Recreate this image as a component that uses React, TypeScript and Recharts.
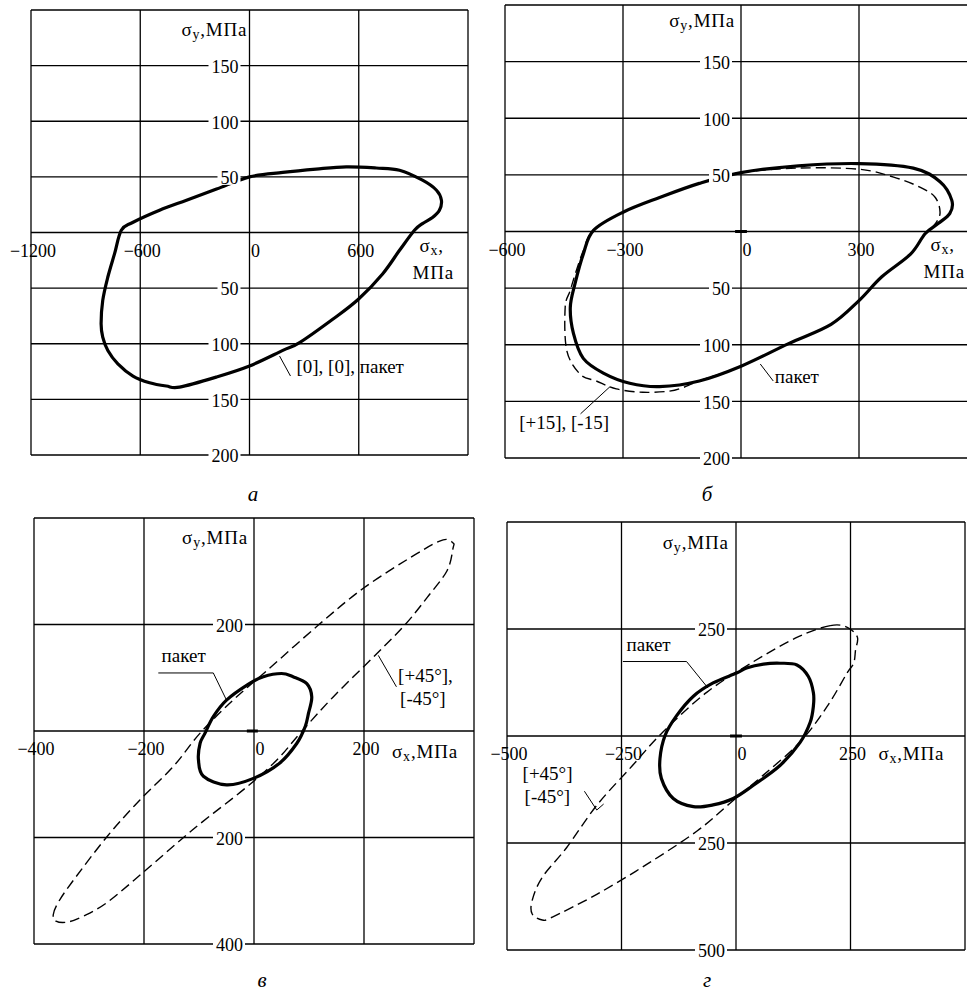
import React from "react";
import { LineChart, Line, XAxis, YAxis, ReferenceLine, ReferenceDot } from "recharts";

type Pt = { x: number; y: number };

const FONT = '"Liberation Serif", "Times New Roman", serif';
const TICK_FS = 18;
const NOTE_FS = 19;
const DIGIT_W = 9;

const pts = (arr: number[][]): Pt[] => arr.map(([x, y]) => ({ x, y }));

// ---- panel а : [0], [0], пакет (one loop) ----
const loopA = pts([
  [0, 50], [183, 54], [366, 57], [531, 59], [696, 58], [824, 56], [950, 47], [1027, 38],
  [1054, 29], [1043, 20], [1005, 13.5], [950, 8], [906, 2], [824, -16], [732, -37],
  [598, -60], [457, -78], [275, -99], [183, -106], [0, -120], [-183, -130], [-384, -139],
  [-457, -138], [-549, -135], [-640, -129], [-723, -118], [-778, -106], [-806, -94],
  [-815, -82], [-806, -61], [-778, -40], [-741, -19], [-704, 2], [-642, 9], [-494, 20],
  [-346, 29], [-181, 39], [0, 50],
]);

// ---- panel б : пакет (solid) and [+15], [-15] (dashed) ----
const packB = pts([
  [0, 52], [146, 58], [300, 60], [438, 56], [506, 44], [536, 27.5], [531, 16], [501, 7],
  [468, -2], [431, -20], [358, -40], [300, -61], [229, -82], [121, -99], [0, -119],
  [-106, -132], [-207, -137], [-283, -134], [-350, -125], [-401, -112], [-426, -90],
  [-434, -67], [-422, -46], [-401, -20], [-375, 1], [-300, 17], [-207, 30], [-106, 42.5],
  [0, 52],
]);
const angleB = pts([
  [0, 52], [146, 56], [300, 55], [388, 48], [456, 39], [494, 30], [506, 16], [490, 5],
  [468, -2], [431, -20], [358, -40], [300, -61], [229, -82], [121, -99], [0, -119],
  [-106, -132], [-149, -138], [-182, -141], [-250, -142], [-317, -139], [-368, -132],
  [-409, -126], [-443, -105], [-447, -67], [-434, -52], [-421, -37], [-401, -17],
  [-376, 1], [-300, 17], [-207, 30], [-106, 42.5], [0, 52],
]);

// ---- panel в : пакет (solid) and [+45°], [-45°] (dashed) ----
const packV = pts([
  [-10, 88], [17, 102], [50, 108], [71, 102], [96, 89], [105, 64], [99, 33], [93, 8],
  [78, -23], [47, -60], [-1, -89], [-50, -101], [-92, -85], [-101, -54], [-98, -23],
  [-89, -4], [-74, 27], [-50, 58], [-10, 88],
]);
const angleV = pts([
  [-365, -345], [-356, -322], [-331, -284], [-267, -198], [-207, -129], [-147, -67],
  [-98, -4], [-38, 58], [24, 114], [116, 198], [200, 269], [296, 333], [344, 359],
  [362, 353], [362, 344], [351, 301], [315, 251], [275, 200], [224, 146], [144, 64],
  [84, -4], [42, -54], [-13, -105], [-111, -185], [-202, -266], [-267, -322],
  [-311, -348], [-340, -359], [-360, -357], [-365, -345],
]);

// ---- panel г : пакет (solid) and [+45°] [-45°] (dashed) ----
const packG = pts([
  [1, 147], [23, 159], [60, 168], [96, 170], [133, 166], [158, 139], [169, 101], [169, 70],
  [162, 32], [140, -15], [96, -69], [38, -115], [-6, -146], [-50, -161], [-93, -165],
  [-137, -146], [-163, -99], [-166, -53], [-155, 1], [-130, 47], [-93, 93], [-50, 124],
  [1, 147],
]);
const angleG = pts([
  [206, 258], [243, 254], [265, 231], [261, 201], [257, 170], [243, 148], [199, 69],
  [140, -14], [59, -92], [-13, -157], [-85, -222], [-195, -300], [-304, -370],
  [-401, -423], [-423, -430], [-445, -416], [-445, -384], [-423, -330], [-370, -261],
  [-304, -162], [-226, -69], [-160, 9], [-64, 102], [37, 173], [134, 231], [206, 258],
]);

// axis ticks
const ticksXA = [-1200, -600, 0, 600];
const ticksYA = [150, 100, 50, -50, -100, -150, -200];
const ticksXB = [-600, -300, 0, 300];
const ticksYB = [150, 100, 50, -50, -100, -150, -200];
const ticksXV = [-400, -200, 0, 200];
const ticksYV = [200, -200, -400];
const ticksXG = [-500, -250, 0, 250];
const ticksYG = [250, -250, -500];

// Catmull-Rom curve for the loops: smooth, passes through every point,
// wraps around when the first and last points coincide.
function loopCurve(context: any) {
  let buf: number[][] = [];
  return {
    areaStart() {},
    areaEnd() {},
    lineStart() {
      buf = [];
    },
    point(x: number, y: number) {
      buf.push([+x, +y]);
    },
    lineEnd() {
      const n = buf.length;
      if (!n) return;
      const closed = n > 3 && Math.abs(buf[0][0] - buf[n - 1][0]) < 0.01 && Math.abs(buf[0][1] - buf[n - 1][1]) < 0.01;
      const P = closed ? buf.slice(0, -1) : buf;
      const m = P.length;
      const at = (i: number) => (closed ? P[((i % m) + m) % m] : P[Math.max(0, Math.min(m - 1, i))]);
      context.moveTo(P[0][0], P[0][1]);
      const segs = closed ? m : m - 1;
      for (let i = 0; i < segs; i++) {
        const p0 = at(i - 1);
        const p1 = at(i);
        const p2 = at(i + 1);
        const p3 = at(i + 2);
        context.bezierCurveTo(
          p1[0] + (p2[0] - p0[0]) / 6,
          p1[1] + (p2[1] - p0[1]) / 6,
          p2[0] - (p3[0] - p1[0]) / 6,
          p2[1] - (p3[1] - p1[1]) / 6,
          p2[0],
          p2[1]
        );
      }
    },
  };
}

interface Curve { data: Pt[]; dashed?: boolean }
interface Note { x: number; y: number; lines: string[] }

interface PanelSpec {
  left: number;
  top: number;
  width: number;
  height: number;
  margin: { top: number; right: number; bottom: number; left: number };
  xDomain: [number, number];
  yDomain: [number, number];
  xGrid: number[];
  yGrid: number[];
  xTicks: number[];
  yTicks: number[];
  // split: "σx," on one line and "МПа" under it, both hanging below the x axis
  sigmaX: { x: number; y: number; split: boolean };
  sigmaY: { x: number; y: number };
  curves: Curve[];
  notes: Note[];
  leaders: Pt[][];
  originMark?: [number, number];
}

const range = (a: number, b: number, step: number) => {
  const out: number[] = [];
  for (let v = a; v <= b + 1e-9; v += step) out.push(v);
  return out;
};

const fmt = (v: number) => (v < 0 ? "\u2212" + Math.abs(v) : String(v));

const panels: PanelSpec[] = [
  {
    left: 0, top: 0, width: 480, height: 470,
    margin: { top: 10, right: 12, bottom: 15, left: 31 },
    xDomain: [-1200, 1200], yDomain: [-200, 200],
    xGrid: range(-1200, 1200, 600), yGrid: range(-200, 200, 50),
    xTicks: ticksXA, yTicks: ticksYA,
    sigmaX: { x: 895, y: 0, split: true },
    sigmaY: { x: -12, y: 182 },
    curves: [{ data: loopA }],
    notes: [{ x: 258, y: -126, lines: ["[0], [0], пакет"] }],
    leaders: [[{ x: 165, y: -111 }, { x: 225, y: -129 }]],
  },
  {
    left: 485, top: 0, width: 500, height: 470,
    margin: { top: 5, right: 8, bottom: 12, left: 20 },
    xDomain: [-600, 600], yDomain: [-200, 200],
    xGrid: range(-600, 600, 300), yGrid: range(-200, 200, 50),
    xTicks: ticksXB, yTicks: ticksYB,
    sigmaX: { x: 464, y: 0, split: true },
    sigmaY: { x: -15, y: 186 },
    curves: [{ data: angleB, dashed: true }, { data: packB }],
    notes: [
      { x: 86, y: -134, lines: ["пакет"] },
      { x: -564, y: -174, lines: ["[+15], [-15]"] },
    ],
    leaders: [
      [{ x: 49, y: -117 }, { x: 82, y: -132 }],
      [{ x: -333, y: -137 }, { x: -408, y: -161 }],
    ],
    originMark: [-15, 15],
  },
  {
    left: 0, top: 500, width: 485, height: 460,
    margin: { top: 18, right: 11, bottom: 16, left: 34 },
    xDomain: [-400, 400], yDomain: [-400, 400],
    xGrid: range(-400, 400, 200), yGrid: range(-400, 400, 200),
    xTicks: ticksXV, yTicks: ticksYV,
    sigmaX: { x: 251, y: -39, split: false },
    sigmaY: { x: -11, y: 363 },
    curves: [{ data: angleV, dashed: true }, { data: packV }],
    notes: [
      { x: -168, y: 130, lines: ["пакет"] },
      { x: 262, y: 92, lines: ["[+45°],", "[-45°]"] },
    ],
    leaders: [
      [{ x: -174, y: 109 }, { x: -74, y: 109 }, { x: -50, y: 58 }],
      [{ x: 226, y: 142 }, { x: 259, y: 83 }],
    ],
    originMark: [-13, 7],
  },
  {
    left: 485, top: 500, width: 482, height: 465,
    margin: { top: 22, right: 2, bottom: 15, left: 22 },
    xDomain: [-500, 500], yDomain: [-500, 500],
    xGrid: range(-500, 500, 250), yGrid: range(-500, 500, 250),
    xTicks: ticksXG, yTicks: ticksYG,
    sigmaX: { x: 311, y: -42, split: false },
    sigmaY: { x: -16, y: 450 },
    curves: [{ data: angleG, dashed: true }, { data: packG }],
    notes: [
      { x: -239, y: 199, lines: ["пакет"] },
      { x: -466, y: -103, lines: ["[+45°]", "[-45°]"] },
    ],
    leaders: [
      [{ x: -247, y: 174 }, { x: -108, y: 174 }, { x: -61, y: 112 }],
      [{ x: -331, y: -129 }, { x: -304, y: -173 }, { x: -289, y: -159 }],
    ],
    originMark: [-13, 13],
  },
];

const tickStyle: React.CSSProperties = { fontFamily: FONT, fontSize: TICK_FS, fill: "#000" };
const noteStyle: React.CSSProperties = { fontFamily: FONT, fontSize: NOTE_FS, fill: "#000" };
const unitStyle: React.CSSProperties = { fontFamily: FONT, fontSize: NOTE_FS, fill: "#000", letterSpacing: 0.8 };

// σ with a lowered subscript, followed by the unit; y is the baseline
function Sigma({ x, y, sub, tail, anchor }: { x: number; y: number; sub: string; tail: string; anchor?: "start" | "end" }) {
  return (
    <text x={x} y={y} textAnchor={anchor ?? "start"} style={unitStyle}>
      <tspan>σ</tspan>
      <tspan style={{ fontSize: 14 }} dy={3}>{sub}</tspan>
      <tspan dy={-3}>{tail}</tspan>
    </text>
  );
}

function Panel({ spec }: { spec: PanelSpec }) {
  const s = spec;
  const grid = { stroke: "#000", strokeWidth: 1.3, ifOverflow: "visible" as const };
  return (
    <div style={{ position: "absolute", left: s.left, top: s.top }}>
      <LineChart width={s.width} height={s.height} margin={s.margin}>
        <XAxis type="number" dataKey="x" domain={s.xDomain} allowDataOverflow hide />
        <YAxis type="number" dataKey="y" domain={s.yDomain} allowDataOverflow hide />

        {s.xGrid.map((v) => (
          <ReferenceLine key={"gx" + v} x={v} {...grid} />
        ))}
        {s.yGrid.map((v) => (
          <ReferenceLine key={"gy" + v} y={v} {...grid} />
        ))}

        {s.yTicks.map((v) => {
          const label = String(Math.abs(v));
          const w = label.length * DIGIT_W;
          return (
            <ReferenceDot
              key={"ty" + v}
              x={0}
              y={v}
              r={0}
              ifOverflow="visible"
              shape={(p: any) => (
                <g>
                  <rect x={p.cx - 11 - w - 3} y={p.cy - 8} width={w + 5} height={16} fill="#fff" />
                  <text x={p.cx - 11} y={p.cy + 1} dy="0.35em" textAnchor="end" style={tickStyle}>
                    {label}
                  </text>
                </g>
              )}
            />
          );
        })}

        {s.xTicks.map((v) => (
          <ReferenceDot
            key={"tx" + v}
            x={v}
            y={0}
            r={0}
            ifOverflow="visible"
            shape={(p: any) => (
              <text x={p.cx + (v === 0 ? 6 : 2)} y={p.cy + 18} dy="0.35em" textAnchor="middle" style={tickStyle}>
                {fmt(v)}
              </text>
            )}
          />
        ))}

        <ReferenceDot
          x={s.sigmaX.x}
          y={s.sigmaX.y}
          r={0}
          ifOverflow="visible"
          shape={(p: any) =>
            s.sigmaX.split ? (
              <g>
                <Sigma x={p.cx + 7} y={p.cy + 19} sub="x" tail="," />
                <text x={p.cx} y={p.cy + 46} style={unitStyle}>МПа</text>
              </g>
            ) : (
              <Sigma x={p.cx} y={p.cy + 6} sub="x" tail=",МПа" />
            )
          }
        />
        <ReferenceDot
          x={s.sigmaY.x}
          y={s.sigmaY.y}
          r={0}
          ifOverflow="visible"
          shape={(p: any) => <Sigma x={p.cx} y={p.cy + 6} sub="y" tail=",МПа" anchor="end" />}
        />

        {s.notes.map((n, i) => (
          <ReferenceDot
            key={"n" + i}
            x={n.x}
            y={n.y}
            r={0}
            ifOverflow="visible"
            shape={(p: any) => (
              <text x={p.cx} y={p.cy} dy="0.35em" style={noteStyle}>
                {n.lines.map((ln, j) => (
                  <tspan key={j} x={p.cx + (j > 0 ? 2 : 0)} dy={j === 0 ? 0 : 23}>
                    {ln}
                  </tspan>
                ))}
              </text>
            )}
          />
        ))}

        {s.leaders.flatMap((path, i) =>
          path.slice(1).map((b, j) => (
            <ReferenceLine
              key={"l" + i + "-" + j}
              segment={[path[j], b]}
              stroke="#000"
              strokeWidth={1}
              ifOverflow="visible"
            />
          ))
        )}

        {s.originMark && (
          <ReferenceLine
            segment={[{ x: s.originMark[0], y: 0 }, { x: s.originMark[1], y: 0 }]}
            stroke="#000"
            strokeWidth={3}
          />
        )}

        {s.curves.map((c, i) => (
          <Line
            key={"c" + i}
            data={c.data}
            dataKey="y"
            type={loopCurve as any}
            stroke="#000"
            strokeWidth={c.dashed ? 1.4 : 3.2}
            strokeDasharray={c.dashed ? "10 5" : undefined}
            strokeLinejoin="round"
            dot={false}
            activeDot={false}
            isAnimationActive={false}
          />
        ))}
      </LineChart>
    </div>
  );
}

const captions = [
  { x: 253, y: 501, t: "а" },
  { x: 707, y: 501, t: "б" },
  { x: 262, y: 987, t: "в" },
  { x: 707, y: 987, t: "г" },
];

export default function App() {
  return (
    <div
      style={{
        position: "fixed",
        left: 0,
        top: 0,
        width: 967,
        height: 993,
        overflow: "hidden",
        background: "#fff",
      }}
    >
      {panels.map((p, i) => (
        <Panel key={i} spec={p} />
      ))}
      <svg width={967} height={993} style={{ position: "absolute", left: 0, top: 0, pointerEvents: "none" }}>
        {captions.map((c) => (
          <text key={c.t} x={c.x} y={c.y} textAnchor="middle" style={{ fontFamily: FONT, fontSize: 21, fontStyle: "italic" }}>
            {c.t}
          </text>
        ))}
      </svg>
    </div>
  );
}
